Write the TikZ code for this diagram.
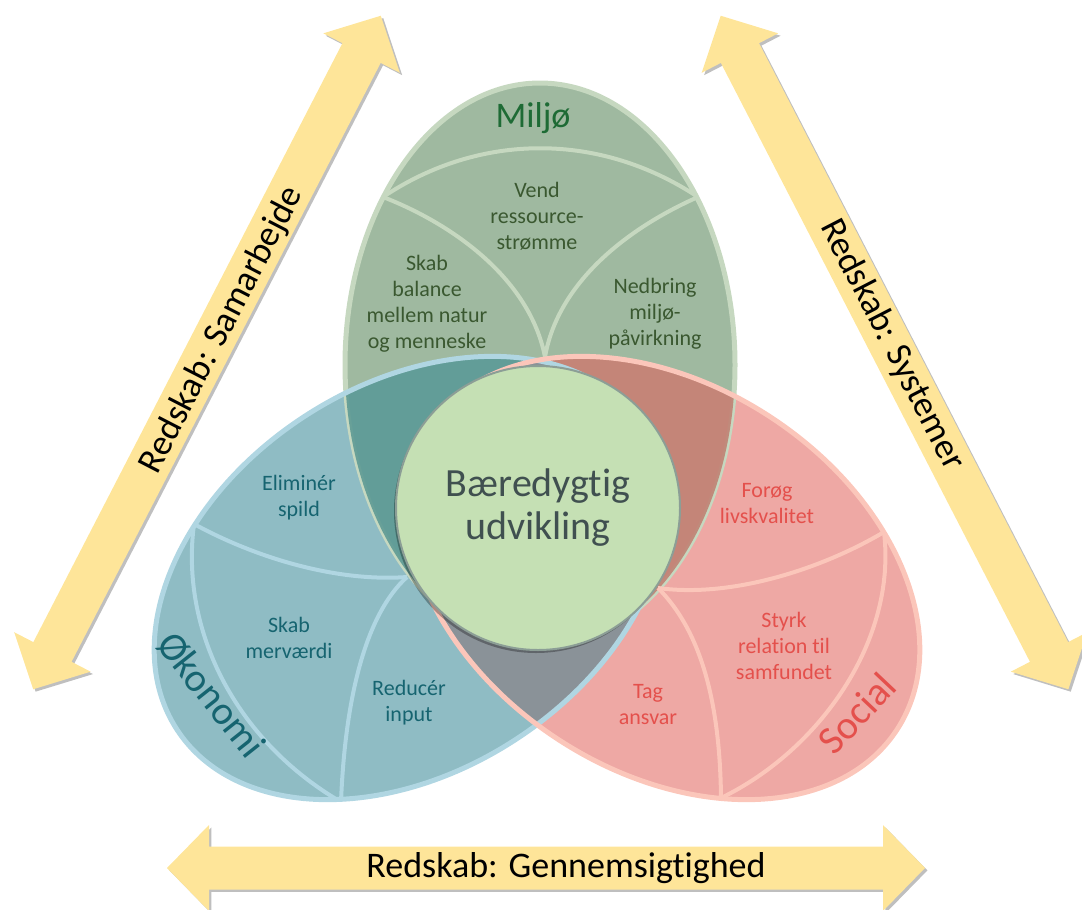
\documentclass[tikz,border=0pt]{standalone}
\usepackage{fontspec}
\setmainfont{Carlito}[Ligatures=NoCommon]
\usetikzlibrary{shadows}

\definecolor{miljo}{RGB}{159,185,160}
\definecolor{miljolys}{RGB}{198,216,192}
\definecolor{miljotekst}{RGB}{58,88,48}
\definecolor{miljotitel}{RGB}{30,107,53}
\definecolor{oekonomi}{RGB}{143,188,196}
\definecolor{oekonomilys}{RGB}{176,214,226}
\definecolor{oekonomitekst}{RGB}{22,100,112}
\definecolor{social}{RGB}{238,168,164}
\definecolor{sociallys}{RGB}{251,198,186}
\definecolor{socialtekst}{RGB}{228,80,76}
\definecolor{miljooek}{RGB}{94,154,148}
\definecolor{miljosoc}{RGB}{192,130,116}
\definecolor{oeksoc}{RGB}{138,146,152}
\definecolor{kernefarve}{RGB}{197,224,180}
\definecolor{kernekant}{RGB}{140,158,150}
\definecolor{kernetekst}{RGB}{64,80,80}
\definecolor{pilgul}{RGB}{254,229,153}

% de tre felter
\newcommand\miljoform{(540,-365) circle [x radius=195, y radius=282]}
\newcommand\oekonomiform{(410,-578) circle [x radius=278, y radius=193, rotate=33]}
\newcommand\socialform{(664,-578) circle [x radius=278, y radius=193, rotate=-33]}

\begin{document}
\begin{tikzpicture}[x=0.5pt, y=0.5pt,
    kant/.style={line width=2.5pt},
    deler/.style={line width=2pt},
    punkt/.style={align=center, font=\fontsize{11}{13}\selectfont},
    navn/.style={font=\fontsize{20}{24}\selectfont},
    redtekst/.style={font=\fontsize{18}{22}\selectfont},
    skygge/.style={drop shadow={shadow xshift=1.2pt, shadow yshift=-1.2pt, opacity=.25, fill=black}},
    redskab/.pic={
      \fill[pilgul, skygge] (-379,0) -- (-337,43) -- (-337,21.5) -- (337,21.5)
        -- (337,43) -- (379,0) -- (337,-43) -- (337,-21.5) -- (-337,-21.5)
        -- (-337,-43) -- cycle;
    }
  ]
  \useasboundingbox (0,0) rectangle (1082,-910);

  % redskabspile
  \pic[rotate=62.7] at (207,-352.5) {redskab};
  \pic[rotate=-62.7] at (894.5,-352.5) {redskab};
  \pic at (546,-868) {redskab};

  \node[redtekst, rotate=62.7] (samarbejde) at (222,-330) {Redskab: Samarbejde};
  \node[redtekst, rotate=-62.7] (systemer) at (892,-345) {Redskab: Systemer};
  \node[redtekst] (gennemsigtighed) at (566,-868) {Redskab: Gennemsigtighed};

  % felter og overlap
  \fill[miljo] \miljoform;
  \fill[oekonomi] \oekonomiform;
  \fill[social] \socialform;
  \draw[kant, miljolys] \miljoform;
  \begin{scope}
    \clip \miljoform;
    \fill[miljooek, opacity=.9] \oekonomiform;
    \fill[miljosoc, opacity=.9] \socialform;
  \end{scope}
  \begin{scope}
    \clip \oekonomiform;
    \fill[oeksoc] \socialform;
  \end{scope}

  % delelinjer
  \coordinate (mV) at (383,-197);
  \coordinate (mH) at (698,-197);
  \coordinate (mB) at (545,-357);
  \begin{scope}
    \clip \miljoform;
    \draw[deler, miljolys] (mV) .. controls (480,-132) and (600,-132) .. (mH);
    \draw[deler, miljolys] (mV) .. controls (455,-225) and (530,-280) .. (mB);
    \draw[deler, miljolys] (mH) .. controls (628,-228) and (558,-282) .. (mB);
  \end{scope}

  \coordinate (oV) at (194,-524);
  \coordinate (oK) at (407,-577);
  \coordinate (oB) at (341,-802);
  \begin{scope}
    \clip \oekonomiform;
    \draw[deler, oekonomilys] (oV) .. controls (260,-560) and (340,-582) .. (oK);
    \draw[deler, oekonomilys] (oK) .. controls (365,-615) and (345,-700) .. (oB);
    \draw[deler, oekonomilys] (oV) .. controls (180,-630) and (235,-740) .. (oB);
  \end{scope}

  \coordinate (sH) at (884,-532);
  \coordinate (sK) at (658,-588);
  \coordinate (sB) at (721,-798);
  \begin{scope}
    \clip \socialform;
    \draw[deler, sociallys] (sK) .. controls (730,-598) and (820,-570) .. (sH);
    \draw[deler, sociallys] (sK) .. controls (700,-630) and (720,-700) .. (sB);
    \draw[deler, sociallys] (sH) .. controls (897,-640) and (820,-750) .. (sB);
  \end{scope}

  \draw[kant, oekonomilys] \oekonomiform;
  \draw[kant, sociallys] \socialform;

  % midten
  \node[circle, fill=kernefarve, draw=kernekant, line width=1pt, minimum size=142pt,
    inner sep=0pt, align=center, text=kernetekst, font=\fontsize{20}{21.5}\selectfont,
    drop shadow={shadow xshift=-1pt, shadow yshift=-1.5pt, opacity=.3, fill=black}]
    (kerne) at (538,-508) {Bæredygtig\\udvikling};

  % tekster
  \node[font=\fontsize{18}{22}\selectfont, text=miljotitel] (miljotitel) at (533,-118) {Miljø};
  \node[punkt, text=miljotekst] (vend) at (537,-216) {Vend\\ressource-\\strømme};
  \node[punkt, text=miljotekst] (balance) at (427,-304) {Skab\\balance\\mellem natur\\og menneske};
  \node[punkt, text=miljotekst] (nedbring) at (655,-314) {Nedbring\\miljø-\\påvirkning};

  \node[punkt, text=oekonomitekst] (spild) at (299,-498) {Eliminér\\spild};
  \node[punkt, text=oekonomitekst] (mervaerdi) at (289,-638) {Skab\\merværdi};
  \node[punkt, text=oekonomitekst] (input) at (409,-703) {Reducér\\input};
  \node[navn, text=oekonomitekst, rotate=-51.6] (oekonomititel) at (211,-695) {Økonomi};

  \node[punkt, text=socialtekst] (livskvalitet) at (767,-504) {Forøg\\livskvalitet};
  \node[punkt, text=socialtekst] (samfundet) at (784,-646) {Styrk\\relation til\\samfundet};
  \node[punkt, text=socialtekst] (ansvar) at (648,-705) {Tag\\ansvar};
  \node[navn, text=socialtekst, rotate=46.6] (socialtitel) at (857,-713) {Social};
\end{tikzpicture}
\end{document}
